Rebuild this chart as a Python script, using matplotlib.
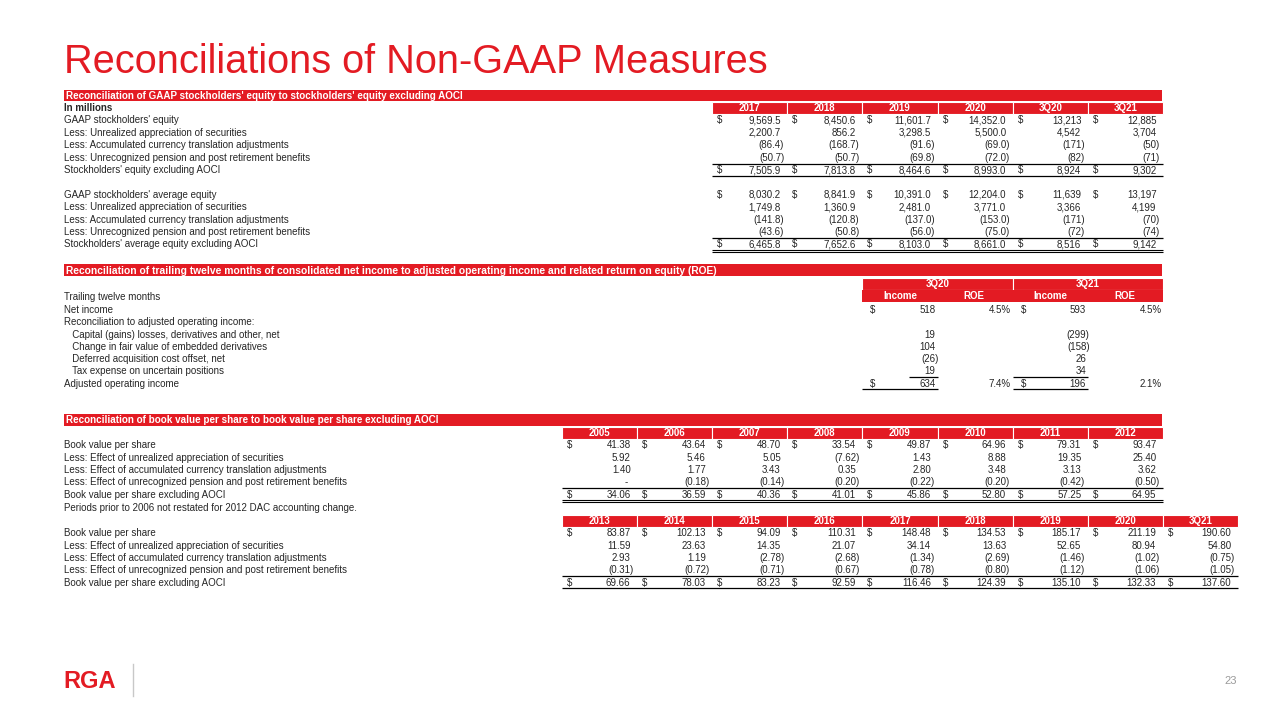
#!/usr/bin/env python3
"""
Slide 23: reconciliations of non-GAAP measures, drawn as tables.
"""
import matplotlib
matplotlib.use("Agg")
import matplotlib.pyplot as plt
from matplotlib.patches import Rectangle

RED = '#e31b23'
FONT = 'Liberation Sans'
FS = 7.0

# --- GAAP equity tables (in millions) ---
eq_cols = ['2017', '2018', '2019', '2020', '3Q20', '3Q21']
eq_decimals = [1, 1, 1, 1, 0, 0]
eq_labels = ["GAAP stockholders' equity",
             "Less: Unrealized appreciation of securities",
             "Less: Accumulated currency translation adjustments",
             "Less: Unrecognized pension and post retirement benefits",
             "Stockholders' equity excluding AOCI"]
eq_values = [[9569.5, 8450.6, 11601.7, 14352.0, 13213, 12885],
             [2200.7, 856.2, 3298.5, 5500.0, 4542, 3704],
             [-86.4, -168.7, -91.6, -69.0, -171, -50],
             [-50.7, -50.7, -69.8, -72.0, -82, -71],
             [7505.9, 7813.8, 8464.6, 8993.0, 8924, 9302]]
avg_labels = ["GAAP stockholders' average equity",
              "Less: Unrealized appreciation of securities",
              "Less: Accumulated currency translation adjustments",
              "Less: Unrecognized pension and post retirement benefits",
              "Stockholders' average equity excluding AOCI"]
avg_values = [[8030.2, 8841.9, 10391.0, 12204.0, 11639, 13197],
              [1749.8, 1360.9, 2481.0, 3771.0, 3366, 4199],
              [-141.8, -120.8, -137.0, -153.0, -171, -70],
              [-43.6, -50.8, -56.0, -75.0, -72, -74],
              [6465.8, 7652.6, 8103.0, 8661.0, 8516, 9142]]

# --- ROE table ---
roe_periods = ['3Q20', '3Q21']
roe_labels = ["Net income",
              "Reconciliation to adjusted operating income:",
              "   Capital (gains) losses, derivatives and other, net",
              "   Change in fair value of embedded derivatives",
              "   Deferred acquisition cost offset, net",
              "   Tax expense on uncertain positions",
              "Adjusted operating income"]
roe_income = [[518, None, 19, 104, -26, 19, 634],
              [593, None, -299, -158, 26, 34, 196]]
roe_pct = [[4.5, None, None, None, None, None, 7.4],
           [4.5, None, None, None, None, None, 2.1]]

# --- Book value per share ---
bv_labels = ["Book value per share",
             "Less: Effect of unrealized appreciation of securities",
             "Less: Effect of accumulated currency translation adjustments",
             "Less: Effect of unrecognized pension and post retirement benefits",
             "Book value per share excluding AOCI"]
bv_cols_a = ['2005', '2006', '2007', '2008', '2009', '2010', '2011', '2012']
bv_values_a = [[41.38, 43.64, 48.70, 33.54, 49.87, 64.96, 79.31, 93.47],
               [5.92, 5.46, 5.05, -7.62, 1.43, 8.88, 19.35, 25.40],
               [1.40, 1.77, 3.43, 0.35, 2.80, 3.48, 3.13, 3.62],
               [0.0, -0.18, -0.14, -0.20, -0.22, -0.20, -0.42, -0.50],
               [34.06, 36.59, 40.36, 41.01, 45.86, 52.80, 57.25, 64.95]]
bv_cols_b = ['2013', '2014', '2015', '2016', '2017', '2018', '2019', '2020', '3Q21']
bv_values_b = [[83.87, 102.13, 94.09, 110.31, 148.48, 134.53, 185.17, 211.19, 190.60],
               [11.59, 23.63, 14.35, 21.07, 34.14, 13.63, 52.65, 80.94, 54.80],
               [2.93, 1.19, -2.78, -2.68, -1.34, -2.69, -1.46, -1.02, -0.75],
               [-0.31, -0.72, -0.71, -0.67, -0.78, -0.80, -1.12, -1.06, -1.05],
               [69.66, 78.03, 83.23, 92.59, 116.46, 124.39, 135.10, 132.33, 137.60]]


def fmt(v, dec):
    if v == 0:
        return '-'
    s = f"{abs(v):,.{dec}f}"
    return f"({s})" if v < 0 else s


fig = plt.figure(figsize=(12.8, 7.2), dpi=100)
ax = fig.add_axes([0, 0, 1, 1])
ax.set_xlim(0, 1280)
ax.set_ylim(720, 0)
ax.axis('off')


def txt(x, y, s, **kw):
    # y is the visual middle of the capitals; draw on the baseline below it
    kw.setdefault('fontsize', FS)
    kw.setdefault('color', '#262626')
    ax.text(x, y + 0.358 * kw['fontsize'] * 100 / 72, s, family=FONT,
            va='baseline', **kw)


def hline(x0, x1, y, lw=0.9):
    ax.plot([x0, x1], [y, y], color='black', lw=lw, solid_capstyle='butt')


def bar(y0, y1, title, size=FS):
    ax.add_patch(Rectangle((64, y0), 1098, y1 - y0, color=RED, lw=0))
    txt(66, (y0 + y1) / 2, title, color='white', fontweight='bold',
        fontsize=size)


def col_headers(x0, w, y0, y1, names):
    for i, n in enumerate(names):
        ax.add_patch(Rectangle((x0 + i * w, y0), w, y1 - y0, facecolor=RED,
                               edgecolor='white', lw=0.8))
        txt(x0 + i * w + w / 2, (y0 + y1) / 2, n, color='white',
            ha='center', fontweight='bold')


def value(xr, y, v, dec):
    s = fmt(v, dec)
    off = 0 if s.endswith(')') else 3.5
    if s == '-':
        off = 6
    txt(xr - off, y, s, ha='right')


def block(x0, w, rows_y, labels, values, decs, double=False):
    for r, (lab, y) in enumerate(zip(labels, rows_y)):
        txt(64, y, lab)
        for c, v in enumerate(values[r]):
            left = x0 + c * w
            if r in (0, len(labels) - 1):
                txt(left + 5, y, '$')
            value(left + w - 3, y, v, decs[c])
    x1 = x0 + w * len(values[0])
    hline(x0, x1, rows_y[-1] - 6)
    if double:
        hline(x0, x1, rows_y[-1] + 5.5, lw=0.8)
        hline(x0, x1, rows_y[-1] + 7.8, lw=0.8)
    else:
        hline(x0, x1, rows_y[-1] + 6)


# title
ax.text(64, 62, "Reconciliations of Non-GAAP Measures", family=FONT,
        fontsize=28.6, color=RED, va='center')

# section 1
bar(89.5, 101, "Reconciliation of GAAP stockholders' equity to "
               "stockholders' equity excluding AOCI", size=7.1)
W = 75.17
col_headers(712, W, 102, 113.5, eq_cols)
txt(64, 107.5, "In millions", fontweight='bold')
step = 12.4
ys1 = [120 + i * step for i in range(5)]
ys2 = [194.4 + i * step for i in range(5)]
block(712, W, ys1, eq_labels, eq_values, eq_decimals)
block(712, W, ys2, avg_labels, avg_values, eq_decimals, double=True)

# section 2
bar(264, 276, "Reconciliation of trailing twelve months of consolidated net "
              "income to adjusted operating income and related return on equity (ROE)",
    size=7.35)
GW = 150.5
for g, p in enumerate(roe_periods):
    gx = 862 + g * GW
    ax.add_patch(Rectangle((gx, 277.5), GW, 12, facecolor=RED,
                           edgecolor='white', lw=0.8))
    txt(gx + GW / 2, 283.5, p, color='white', ha='center', fontweight='bold')
ax.add_patch(Rectangle((862, 290), 2 * GW, 12, color=RED, lw=0))
for g in range(2):
    gx = 862 + g * GW
    txt(gx + 38, 296, "Income", color='white', ha='center', fontweight='bold')
    txt(gx + 112, 296, "ROE", color='white', ha='center', fontweight='bold')
txt(64, 297, "Trailing twelve months")
ys3 = [309.5 + i * 12.3 for i in range(7)]
for r, (lab, y) in enumerate(zip(roe_labels, ys3)):
    txt(64, y, lab)
    for g in range(2):
        gx = 862 + g * GW
        v = roe_income[g][r]
        if v is None:
            continue
        if r in (0, len(roe_labels) - 1):
            txt(gx + 8, y, '$')
        value(gx + 77, y, v, 0)
        pc = roe_pct[g][r]
        if pc is not None:
            txt(gx + 149, y, f"{pc:.1f}%", ha='right')
hline(909, 938, ys3[-1] - 6)
hline(1013, 1088, ys3[-1] - 6)
hline(862, 938, ys3[-1] + 6)
hline(1013, 1088, ys3[-1] + 6)

# section 3
bar(414, 425.5, "Reconciliation of book value per share to book value per "
                "share excluding AOCI", size=7.1)
BW = 75.1
col_headers(562, BW, 427, 439, bv_cols_a)
ys4 = [445 + i * 12.3 for i in range(5)]
block(562, BW, ys4, bv_labels, bv_values_a, [2] * len(bv_cols_a), double=True)
txt(64, 508, "Periods prior to 2006 not restated for 2012 DAC accounting change.")
col_headers(562, BW, 515, 527, bv_cols_b)
ys5 = [533 + i * 12.3 for i in range(5)]
block(562, BW, ys5, bv_labels, bv_values_b, [2] * len(bv_cols_b))

# footer
ax.text(63, 681, "RGA", family=FONT, fontsize=17, fontweight='bold',
        color=RED, va='center')
ax.plot([133, 133], [664, 696], color='#c8c8c8', lw=1)
ax.text(1237, 681, "23", family=FONT, fontsize=8, color='#9a9a9a',
        va='center', ha='right')

fig.savefig('out.png', dpi=100)
